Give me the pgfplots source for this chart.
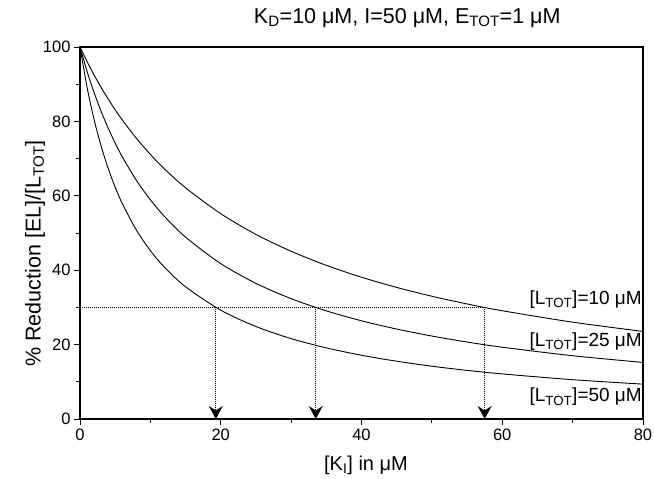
\documentclass[border=0pt]{standalone}
\usepackage{pgfplots}
\pgfplotsset{compat=1.18}
\usepackage{fontspec}
\setmainfont{Liberation Sans}
\usetikzlibrary{arrows.meta}

\begin{document}
\begin{tikzpicture}
% page size of the reference, axis box at the origin
\useasboundingbox (-80pt,-60pt) rectangle (574pt,419pt);
\begin{axis}[
    scale only axis,
    width=563pt, height=372pt,
    xmin=0, xmax=80, ymin=0, ymax=100,
    xtick={0,20,...,80}, ytick={0,20,...,100},
    minor x tick num=1, minor y tick num=1,
    tick align=outside,
    major tick length=6pt, minor tick length=4pt,
    xtick pos=bottom, ytick pos=left,
    axis line style={line width=1.1pt},
    every tick/.style={black, line width=0.9pt},
    /pgf/number format/assume math mode=true,
    tick label style={font=\fontsize{16.5}{19}\selectfont},
    xlabel={[K\textsubscript{I}] in μM},
    ylabel={\% Reduction [EL]/[L\textsubscript{TOT}]},
    xlabel style={font=\fontsize{20}{24}\selectfont,
      at={(axis description cs:0.508,0)}, anchor=center, yshift=-46pt},
    ylabel style={font=\fontsize{21.5}{25}\selectfont,
      at={(axis description cs:-0.080,0.445)}, anchor=center},
    clip=false,
]
% [L_TOT]=10 uM
\addplot[black, line width=0.9pt, smooth] coordinates {
 (0,100) (1,96.10) (2,92.49) (3,89.14) (4,86.03) (5,83.13) (6,80.41)
 (8,75.48) (10,71.12) (12,67.24) (15,62.15) (20,55.19) (25,49.63)
 (30,45.09) (35,41.31) (40,38.11) (45,35.37) (50,33.00) (55,30.93)
 (60,29.10) (70,26.03) (80,23.54)
};
% [L_TOT]=25 uM
\addplot[black, line width=0.9pt, smooth] coordinates {
 (0,100) (1,93.48) (2,87.77) (3,82.71) (4,78.20) (5,74.16) (6,70.51)
 (8,64.20) (10,58.93) (12,54.45) (15,48.89) (20,41.77) (25,36.46)
 (30,32.35) (35,29.07) (40,26.40) (45,24.18) (50,22.30) (55,20.69)
 (60,19.30) (70,17.01) (80,15.21)
};
% [L_TOT]=50 uM
\addplot[black, line width=0.9pt, smooth] coordinates {
 (0,100) (1,89.21) (2,80.53) (3,73.38) (4,67.40) (5,62.32) (6,57.96)
 (8,50.83) (10,45.27) (12,40.80) (15,35.54) (20,29.26) (25,24.86)
 (30,21.61) (35,19.12) (40,17.14) (45,15.53) (50,14.19) (55,13.07)
 (60,12.12) (70,10.57) (80,9.37)
};
% 30 % level and the K_I values read off it
\addplot[black, line width=1pt, densely dotted] coordinates {(0,30) (57.5,30)};
\addplot[black, line width=1pt, densely dotted, -{Stealth[length=13pt,width=14pt,inset=4.5pt]}]
  coordinates {(19.3,30) (19.3,0)};
\addplot[black, line width=1pt, densely dotted, -{Stealth[length=13pt,width=14pt,inset=4.5pt]}]
  coordinates {(33.5,30) (33.5,0)};
\addplot[black, line width=1pt, densely dotted, -{Stealth[length=13pt,width=14pt,inset=4.5pt]}]
  coordinates {(57.5,30) (57.5,0)};

\node[anchor=east, font=\fontsize{19}{22}\selectfont, inner xsep=1pt]
  at (axis cs:80,32.2) {[L\textsubscript{TOT}]=10 μM};
\node[anchor=east, font=\fontsize{19}{22}\selectfont, inner xsep=1pt]
  at (axis cs:80,20.8) {[L\textsubscript{TOT}]=25 μM};
\node[anchor=east, font=\fontsize{19}{22}\selectfont, inner xsep=1pt]
  at (axis cs:80,5.9) {[L\textsubscript{TOT}]=50 μM};

\node[font=\fontsize{21.5}{25}\selectfont]
  at (axis cs:46.5,107.8) {K\textsubscript{D}=10 μM, I=50 μM, E\textsubscript{TOT}=1 μM};
\end{axis}
\end{tikzpicture}
\end{document}
